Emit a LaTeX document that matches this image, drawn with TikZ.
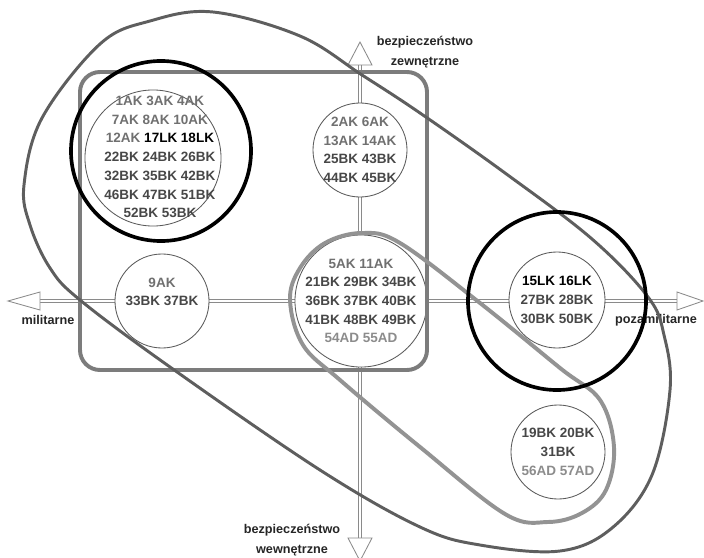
\documentclass[tikz,border=0pt]{standalone}
\usepackage{fontspec}
\setmainfont{Liberation Sans}
\usepackage{tikz}
\usetikzlibrary{positioning}
\definecolor{akg}{HTML}{707070}
\definecolor{bkg}{HTML}{474747}
\definecolor{adg}{HTML}{8c8c8c}
\definecolor{axg}{HTML}{8a8a8a}
\definecolor{boxg}{HTML}{7c7c7c}
\definecolor{loopd}{HTML}{5e5e5e}
\definecolor{loopl}{HTML}{939393}

\begin{document}
\begin{tikzpicture}[x=0.025cm,y=-0.025cm,
  ring/.style={circle,draw=black!65,fill=white,line width=0.6pt,inner sep=0pt},
  hull/.style={circle,draw=black,line width=2.6pt,inner sep=0pt},
  grp/.style={align=center,text=bkg,font=\fontsize{9.6}{13.3}\selectfont\bfseries},
  lbl/.style={align=center,text=black!85,font=\fontsize{9}{14}\selectfont\bfseries},
  shaft/.style={draw=axg,double=white,double distance=1.8pt,line width=0.6pt},
  head/.style={draw=axg,fill=white,line width=0.6pt,line join=miter}]
\useasboundingbox (0,0) rectangle (704,558);
% ---------- axes ----------
\coordinate (W) at (8,301);   \coordinate (Wb) at (40,301);
\coordinate (E) at (703,301); \coordinate (Eb) at (677,301);
\coordinate (N) at (360,42);  \coordinate (Nb) at (360,65);
\coordinate (S) at (360,561); \coordinate (Sb) at (360,538);
\draw[shaft] (Wb) -- (Eb);
\draw[shaft] (Nb) -- (Sb);
\draw[head] (W) -- (40,292) -- (40,310) -- cycle;
\draw[head] (E) -- (677,292) -- (677,310) -- cycle;
\draw[head] (N) -- (348,65) -- (372,65) -- cycle;
\draw[head] (S) -- (348,538) -- (372,538) -- cycle;
\node[lbl] (zew) at (425,52) {bezpieczeństwo\\zewnętrzne};
\node[lbl] (wew) at (292,540) {bezpieczeństwo\\wewnętrzne};
\node[lbl] (mil) at (48,320) {militarne};
\node[lbl] (poz) at (656,320) {pozamilitarne};
% ---------- groups ----------
\node[ring,minimum size=3.4cm] (c1) at (153,158) {};
\node[grp] (t1) at (160,157) {\textcolor{akg}{1AK 3AK 4AK}\\\textcolor{akg}{7AK 8AK 10AK}\\
  \textcolor{akg}{12AK} \textcolor{black}{17LK 18LK}\\22BK 24BK 26BK\\32BK 35BK 42BK\\46BK 47BK 51BK\\52BK 53BK};
\node[ring,minimum size=2.35cm] (c2) at (360,150) {};
\node[grp] (t2) at (c2) {\textcolor{akg}{2AK 6AK}\\\textcolor{akg}{13AK 14AK}\\25BK 43BK\\44BK 45BK};
\node[ring,minimum size=2.35cm] (c3) at (162,301) {};
\node[grp] (t3) at (c3) {\textcolor{akg}{9AK}\\33BK 37BK\\ };
\node[ring,minimum size=3.3cm] (c4) at (361,301) {};
\node[grp] (t4) at (c4) {\textcolor{akg}{5AK 11AK}\\21BK 29BK 34BK\\36BK 37BK 40BK\\41BK 48BK 49BK\\\textcolor{adg}{54AD 55AD}};
\node[ring,minimum size=2.4cm] (c5) at (557,300) {};
\node[grp] (t5) at (c5) {\textcolor{black}{15LK 16LK}\\27BK 28BK\\30BK 50BK};
\node[ring,minimum size=2.35cm] (c6) at (558,452) {};
\node[grp] (t6) at (c6) {19BK 20BK\\31BK\\\textcolor{adg}{56AD 57AD}};
% ---------- frames ----------
\draw[boxg,line width=2.8pt,rounded corners=0.5cm] (80,72) rectangle (427,370);
\draw[loopd,line width=2.1pt] plot[smooth cycle,tension=0.6] coordinates {
  (213,12) (300,36) (362,75) (420,113) (505,173) (592,239) (648,297) (664,335)
  (670,390) (652,475) (612,528) (560,551) (480,545) (420,527) (320,470) (170,367)
  (80,300) (50,268) (30,225) (24,185) (42,118) (100,44) (150,21)};
\draw[loopl,line width=2.8pt] plot[smooth cycle,tension=0.6] coordinates {
  (290,300) (300,268) (325,243) (362,233) (400,243) (480,303) (560,368) (600,400)
  (614,447) (606,490) (582,513) (548,522) (505,514) (420,447) (340,380) (303,345)};
\node[hull,minimum size=4.5cm] (h1) at (161,151) {};
\node[hull,minimum size=4.45cm] (h2) at (557,301) {};
\end{tikzpicture}
\end{document}
